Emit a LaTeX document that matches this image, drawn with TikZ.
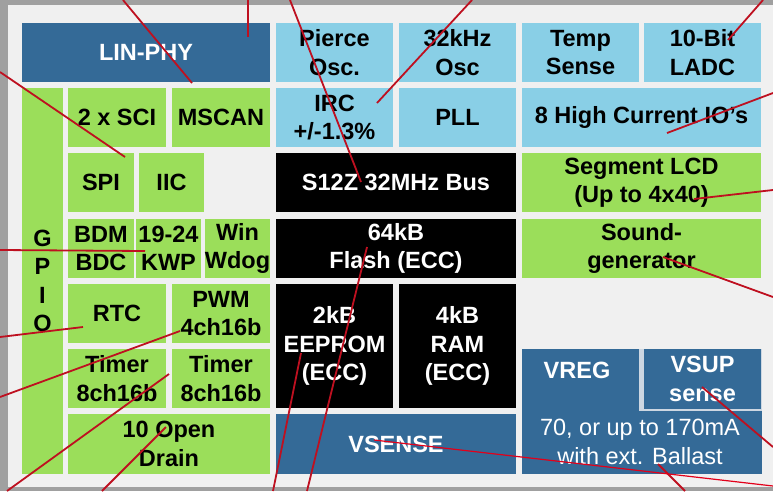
\documentclass[tikz,border=0pt]{standalone}
\usepackage{fontspec}
\setmainfont{Liberation Sans}
\usepackage{tikz}

\definecolor{phyblue}{RGB}{52,106,151}
\definecolor{oscblue}{RGB}{137,207,230}
\definecolor{perigreen}{RGB}{155,222,90}
\definecolor{calloutred}{RGB}{190,16,32}
\definecolor{thinred}{RGB}{226,0,26}
\definecolor{panelgrey}{RGB}{240,240,240}
\definecolor{edgegrey}{RGB}{160,160,160}
\definecolor{gapgrey}{RGB}{205,215,226}

\tikzset{
  blk/.style={rectangle,inner sep=0pt,align=center,font=\bfseries\fontsize{23.5}{28.5}\selectfont},
  phy/.style={blk,fill=phyblue,text=white},
  osc/.style={blk,fill=oscblue},
  core/.style={blk,fill=black,text=white},
  periph/.style={blk,fill=perigreen},
  callout/.style={draw=calloutred,line width=1.8pt},
}

\begin{document}
\begin{tikzpicture}[x=1pt,y=-1pt]
  \useasboundingbox (0,0) rectangle (773,491);
  \fill[edgegrey] (0,0) rectangle (773,491);
  \fill[panelgrey] (8,5) rectangle (773,487);

  \node[phy,minimum width=248pt,minimum height=59pt] (linphy) at (146,52.5) {LIN-PHY};
  \node[periph,minimum width=41pt,minimum height=386pt] (gpio) at (42.5,281) {G\\P\\I\\O};
  \node[periph,minimum width=98pt,minimum height=59pt] (sci) at (117,117.5) {2 x SCI};
  \node[periph,minimum width=98pt,minimum height=59pt] (mscan) at (221,117.5) {MSCAN};
  \node[periph,minimum width=66pt,minimum height=59pt] (spi) at (101,182.5) {SPI};
  \node[periph,minimum width=65pt,minimum height=59pt] (iic) at (171.5,182.5) {IIC};
  \node[periph,minimum width=66pt,minimum height=59pt] (bdm) at (101,248.5) {BDM\\BDC};
  \node[periph,minimum width=65pt,minimum height=59pt] (kwp) at (168.5,248.5) {19-24\\KWP};
  \node[periph,minimum width=65pt,minimum height=59pt] (wdog) at (237.5,248.5) {Win\\Wdog};
  \node[periph,minimum width=98pt,minimum height=59pt] (rtc) at (117,313.5) {RTC};
  \node[periph,minimum width=98pt,minimum height=59pt] (pwm) at (221,313.5) {PWM\\4ch16b};
  \node[periph,minimum width=98pt,minimum height=59pt] (timera) at (117,378.5) {Timer\\8ch16b};
  \node[periph,minimum width=98pt,minimum height=59pt] (timerb) at (221,378.5) {Timer\\8ch16b};
  \node[periph,minimum width=202pt,minimum height=60pt] (drain) at (169,444) {10 Open\\Drain};

  \node[osc,minimum width=117pt,minimum height=59pt] (pierce) at (334.5,52.5) {Pierce\\Osc.};
  \node[osc,minimum width=117pt,minimum height=59pt] (khz) at (457.5,52.5) {32kHz\\Osc};
  \node[osc,minimum width=117pt,minimum height=59pt] (temp) at (580.5,52.5) {Temp\\Sense};
  \node[osc,minimum width=117pt,minimum height=59pt] (ladc) at (702.5,52.5) {10-Bit\\LADC};
  \node[osc,minimum width=117pt,minimum height=59pt] (irc) at (334.5,117.5) {IRC\\+/-1.3\%};
  \node[osc,minimum width=117pt,minimum height=59pt] (pll) at (457.5,117.5) {PLL};
  \node[osc,minimum width=239pt,minimum height=59pt] (hcio) at (641.5,117.5) {8 High Current IO’s};

  \node[core,minimum width=240pt,minimum height=59pt] (bus) at (396,182.5) {S12Z 32MHz Bus};
  \node[core,minimum width=240pt,minimum height=59pt] (flash) at (396,248.5) {64kB\\Flash (ECC)};
  \node[core,minimum width=117pt,minimum height=124pt] (eeprom) at (334.5,346) {2kB\\EEPROM\\(ECC)};
  \node[core,minimum width=117pt,minimum height=124pt] (ram) at (457.5,346) {4kB\\RAM\\(ECC)};
  \node[phy,minimum width=240pt,minimum height=60pt] (vsense) at (396,444) {VSENSE};

  \node[periph,minimum width=239pt,minimum height=59pt] (lcd) at (641.5,182.5) {Segment LCD\\(Up to 4x40)};
  \node[periph,minimum width=239pt,minimum height=59pt] (sound) at (641.5,248.5) {Sound-\\generator};

  \node[phy,minimum width=240pt,minimum height=125pt] (vreg) at (642,411.5) {};
  \fill[gapgrey] (639,349) rectangle (762,411);
  \node[phy,minimum width=117pt,minimum height=60pt] (vsup) at (702.5,379) {VSUP\\sense};
  \node[blk,text=white] (vregname) at (577,370) {VREG};
  \node[blk,text=white,font=\fontsize{23.5}{28.5}\selectfont] (ballasttext) at (640,442) {70, or up to 170mA\\with ext. Ballast};

  \foreach \name/\ox/\oy/\ix/\iy in {mscan/123/0/192/83, linphy/248/0/248/37, spi/0/72/125/157,
      bus/290/0/361/182, irc/472/0/377/103, ladc/763/0/728/40, hcio/773/93/667/133,
      lcd/773/190/694/199, sound/773/297/663/257, kwp/0/250/145/251, rtc/0/337/83/327,
      pwm/0/397/180/331, timer/7/491/169/374, drain/102/491/166/427, flash/307/491/367/247,
      eeprom/273/491/301/353, ballast/685/491/658/464, vsup/773/447/702/387} {
    \coordinate (\name-out) at (\ox,\oy);
    \coordinate (\name-in) at (\ix,\iy);
    \draw[callout] (\name-out) -- (\name-in);
  }
  \coordinate (vsense-out) at (773,486);
  \coordinate (vsense-in) at (374,440);
  \draw[draw=thinred,line width=1.2pt] (vsense-out) -- (vsense-in);
\end{tikzpicture}
\end{document}
